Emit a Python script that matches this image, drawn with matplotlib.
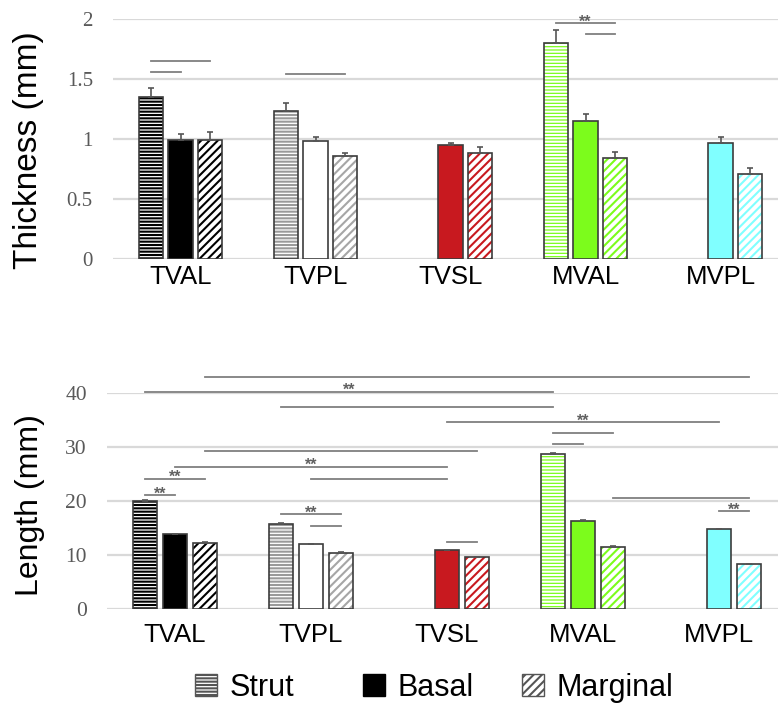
import numpy as np
import matplotlib
matplotlib.use('Agg')
import matplotlib.pyplot as plt
from matplotlib.patches import Patch

nan = np.nan
categories = ['TVAL', 'TVPL', 'TVSL', 'MVAL', 'MVPL']
series = ['Strut', 'Basal', 'Marginal']

thick_strut = [1.35, 1.23, nan, 1.80, nan]
thick_basal = [0.99, 0.98, 0.95, 1.15, 0.97]
thick_marg = [0.99, 0.86, 0.88, 0.84, 0.71]
thick_strut_err = [0.075, 0.07, nan, 0.11, nan]
thick_basal_err = [0.05, 0.035, 0.02, 0.055, 0.05]
thick_marg_err = [0.07, 0.025, 0.05, 0.05, 0.05]

len_strut = [20.0, 15.7, nan, 28.7, nan]
len_basal = [13.8, 12.0, 10.9, 16.3, 14.8]
len_marg = [12.3, 10.4, 9.6, 11.5, 8.3]
len_strut_err = [0.15, 0.15, nan, 0.2, nan]
len_basal_err = [0.15, 0.1, 0.1, 0.15, 0.1]
len_marg_err = [0.1, 0.1, 0.1, 0.1, 0.1]

thick_ticks = [0, 0.5, 1, 1.5, 2]
thick_ticklabels = ['0', '0.5', '1', '1.5', '2']
len_ticks = [0, 10, 20, 30, 40]
len_ticklabels = ['0', '10', '20', '30', '40']

# significance brackets: (cat_a, series_a, cat_b, series_b, y, stars)
sig_thick = [
    (0, 0, 0, 2, 1.65, ''),
    (0, 0, 0, 1, 1.56, ''),
    (1, 0, 1, 2, 1.54, ''),
    (3, 0, 3, 2, 1.965, '**'),
    (3, 1, 3, 2, 1.875, ''),
]
sig_len = [
    (0, 2, 4, 2, 42.9, ''),
    (0, 0, 3, 0, 40.2, '**'),
    (1, 0, 3, 0, 37.4, ''),
    (2, 1, 4, 1, 34.6, '**'),
    (3, 0, 3, 2, 32.6, ''),
    (3, 0, 3, 1, 30.6, ''),
    (0, 2, 2, 2, 29.3, ''),
    (0, 1, 2, 1, 26.35, '**'),
    (0, 0, 0, 2, 24.1, '**'),
    (1, 1, 2, 1, 24.1, ''),
    (0, 0, 0, 1, 21.1, '**'),
    (1, 0, 1, 2, 17.6, '**'),
    (1, 1, 1, 2, 15.4, ''),
    (2, 1, 2, 2, 12.4, ''),
    (3, 2, 4, 2, 20.6, ''),
    (4, 1, 4, 2, 18.1, '**'),
]

# styles per category per series: (facecolor, hatch, hatchcolor)
RED = '#c8191f'
GREEN = '#7cfc1c'
CYAN = '#80ffff'
styles = [
    [('white', '-----', 'black'), ('black', None, 'black'), ('white', '////', 'black')],
    [('white', '-----', '#9a9a9a'), ('white', None, 'white'), ('white', '////', '#a6a6a6')],
    [None, (RED, None, RED), ('white', '////', RED)],
    [(GREEN, '-----', 'white'), (GREEN, None, GREEN), ('white', '////', GREEN)],
    [None, (CYAN, None, CYAN), ('white', '////', CYAN)],
]

plt.rcParams['hatch.linewidth'] = 1.5
EDGE = '#3c3c3c'
GRID = '#d9d9d9'
SIGC = '#7f7f7f'
offsets = [-0.222, 0.0, 0.222]
W = 0.178

fig = plt.figure(figsize=(7.78, 7.07), dpi=100)
W_FIG, H_FIG = 778, 707


def draw(ax, vals, errs, sig, ticks, ticklabels, ylim, ticksize, catpad):
    for j in range(3):
        v = vals[j]
        e = errs[j]
        for i in range(len(categories)):
            if np.isnan(v[i]):
                continue
            fc, hatch, hc = styles[i][j]
            x = i + offsets[j]
            ax.bar(x, v[i], width=W, color=fc, hatch=hatch, edgecolor=hc,
                   linewidth=0, zorder=2)
            ax.bar(x, v[i], width=W, facecolor='none', edgecolor=EDGE,
                   linewidth=1.2, zorder=3)
            ax.errorbar(x, v[i], yerr=[[0], [e[i]]], fmt='none', ecolor='#555555',
                        capsize=2.5, elinewidth=1.2, capthick=1.2, zorder=4)
    for (ca, sa, cb, sb, y, st) in sig:
        xa = ca + offsets[sa]
        xb = cb + offsets[sb]
        ax.plot([xa, xb], [y, y], color=SIGC, lw=1.3, clip_on=False, zorder=5)
        if st:
            ax.annotate(st, xy=((xa + xb) / 2, y), xytext=(0, -2.4),
                        textcoords='offset points', ha='center', va='baseline',
                        fontsize=11.5, fontweight='bold', color='#606060',
                        family='Liberation Sans', annotation_clip=False)
    ax.set_ylim(*ylim)
    ax.set_yticks(ticks)
    ax.set_yticklabels(ticklabels, family='Liberation Serif', color='#595959',
                       fontsize=ticksize)
    ax.set_xticks(range(len(categories)))
    ax.set_xticklabels(categories, family='Liberation Sans', fontsize=18.5,
                       color='black')
    ax.tick_params(axis='y', length=0, pad=14.5)
    ax.tick_params(axis='x', length=0, pad=catpad)
    for s in ax.spines.values():
        s.set_visible(False)
    ax.yaxis.grid(True, color=GRID, lw=1.6, zorder=0)
    ax.set_axisbelow(True)
    ax.set_xlim(-0.5, 4.5)


# top axes
l1 = 113 / W_FIG
b1 = (H_FIG - 259) / H_FIG
h1 = (259 - 19) / H_FIG
w1 = 675 / W_FIG
ax1 = fig.add_axes([l1, b1, w1, h1])
draw(ax1, [thick_strut, thick_basal, thick_marg],
     [thick_strut_err, thick_basal_err, thick_marg_err],
     sig_thick, thick_ticks, thick_ticklabels, (0, 2), 15, 4)

# bottom axes
l2 = 107 / W_FIG
b2 = (H_FIG - 609) / H_FIG
h2 = (609 - 393) / H_FIG
w2 = 680 / W_FIG
ax2 = fig.add_axes([l2, b2, w2, h2])
draw(ax2, [len_strut, len_basal, len_marg],
     [len_strut_err, len_basal_err, len_marg_err],
     sig_len, len_ticks, len_ticklabels, (0, 40), 15.5, 10)

fig.text(29 / W_FIG, 1 - 150 / H_FIG, 'Thickness (mm)', rotation=90,
         ha='center', va='center', fontsize=24, family='Liberation Sans')
fig.text(30 / W_FIG, 1 - 505 / H_FIG, 'Length (mm)', rotation=90,
         ha='center', va='center', fontsize=23, family='Liberation Sans')

handles = [
    Patch(facecolor='white', hatch='-----', edgecolor='#555555', linewidth=1),
    Patch(facecolor='black', edgecolor='black', linewidth=1),
    Patch(facecolor='white', hatch='////', edgecolor='#555555', linewidth=1),
]
legend_x = [195, 363, 522]
for hnd, lab, lx in zip(handles, series, legend_x):
    fig.legend([hnd], [lab], loc='center left',
               bbox_to_anchor=(lx / W_FIG, 1 - 688 / H_FIG),
               frameon=False, prop={'family': 'Liberation Sans', 'size': 22},
               handlelength=0.72, handleheight=0.72, handletextpad=0.4,
               borderpad=0, borderaxespad=0)

fig.savefig('out.png', dpi=100)
